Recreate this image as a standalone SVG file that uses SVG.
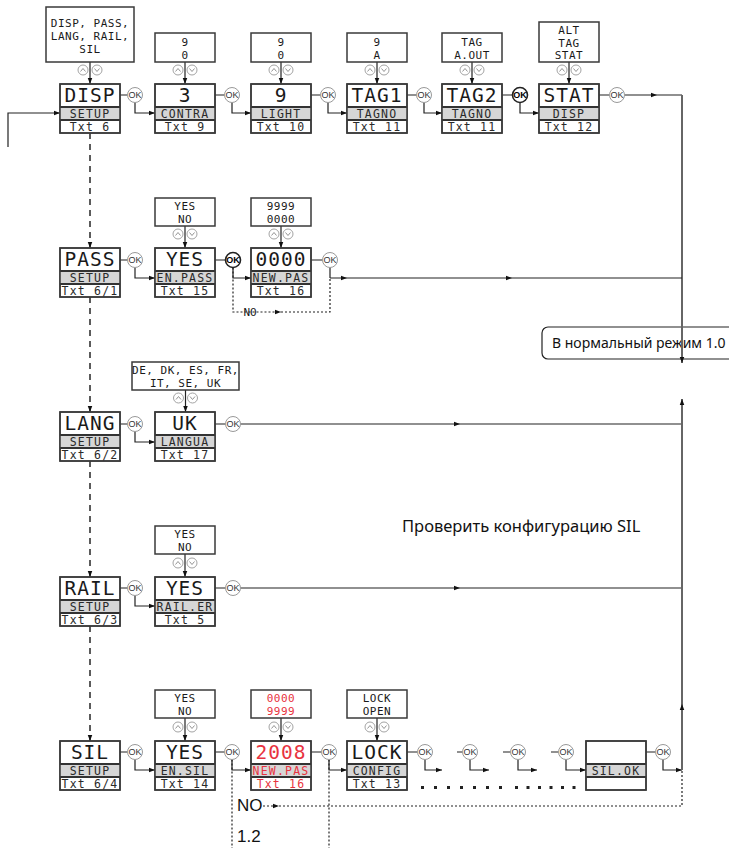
<svg xmlns="http://www.w3.org/2000/svg" xmlns:xlink="http://www.w3.org/1999/xlink" width="729" height="848" viewBox="0 0 729 848">
<style>
.bx{fill:#fff;stroke:#3a3a3a;stroke-width:1.5}
.nb{fill:none;stroke:#3a3a3a;stroke-width:1.5}
.bd{fill:#d6d6d6}
.dv{stroke:#333;stroke-width:2;fill:none}
.l{font-family:"DejaVu Sans Mono","Liberation Mono",monospace;text-anchor:middle;fill:#1a1a1a}
.b{font-size:19.5px;letter-spacing:1px}
.s{font-size:11.5px;letter-spacing:1.2px;fill:#2a2a2a}
.o{font-size:11px;letter-spacing:0.5px}
.r{fill:#e83340}
.okc{fill:#fff;stroke:#999;stroke-width:1}
.okbc{fill:#fff;stroke:#222;stroke-width:1.6}
.okt{font-family:"Liberation Sans",Arial,sans-serif;font-size:9px;text-anchor:middle;fill:#333}
.okbt{font-family:"Liberation Sans",Arial,sans-serif;font-size:9px;font-weight:bold;text-anchor:middle;fill:#000}
.c{fill:none;stroke:#222;stroke-width:1.2}
.v{fill:none;stroke:#666;stroke-width:2}
.dash{fill:none;stroke:#333;stroke-width:1.6;stroke-dasharray:6 5}
.dot{fill:none;stroke:#222;stroke-width:1.2;stroke-dasharray:2 2}
.ru{font-family:"Noto Sans","Open Sans",sans-serif;fill:#111}
.ar{font-family:"Liberation Sans",Arial,sans-serif;font-size:17px;fill:#111}
.udc{fill:#fff;stroke:#999;stroke-width:0.9}
.udp{fill:none;stroke:#888;stroke-width:0.9}
</style>
<defs>
<marker id="ae" viewBox="0 0 8 8" refX="8" refY="4" markerWidth="6" markerHeight="6" orient="auto" markerUnits="userSpaceOnUse"><path d="M0 1L8 4L0 7z" fill="#111"/></marker>
<g id="ud"><circle class="udc" cx="-7" r="5"/><path class="udp" d="M-9.5 1.5L-7 -1.5L-4.5 1.5"/><circle class="udc" cx="7" r="5"/><path class="udp" d="M4.5 -1.5L7 1.5L9.5 -1.5"/></g>
</defs>
<rect width="729" height="848" fill="#fff"/>

<g id="lbl-normal">
<rect x="542" y="327" width="200" height="32" rx="6" fill="#fff" stroke="#222" stroke-width="1.2"/>
<text class="ru" x="552" y="348" font-size="14">В нормальный режим 1.0</text>
</g>
<g id="lbl-check"><text class="ru" x="402" y="532" font-size="16.5">Проверить конфигурацию SIL</text></g>

<g id="connectors">
<path class="c" d="M8 147V113H60" marker-end="url(#ae)"/>
<path class="c" d="M120 95H127.5M215 95H224.5M311 95H320.5M407 95H416.5M502 95H512.5M599 95H609.5"/>
<path class="c" d="M135 102.5V113H155" marker-end="url(#ae)"/>
<path class="c" d="M232 102.5V113H251" marker-end="url(#ae)"/>
<path class="c" d="M328 102.5V113H347" marker-end="url(#ae)"/>
<path class="c" d="M424 102.5V113H442" marker-end="url(#ae)"/>
<path class="c" d="M520 102.5V113H539" marker-end="url(#ae)"/>
<path class="c" d="M624.5 95H657H682" marker-mid="url(#ae)"/>
<path class="c" d="M90 62V84" marker-end="url(#ae)"/>
<path class="c" d="M185 62V84" marker-end="url(#ae)"/>
<path class="c" d="M281 62V84" marker-end="url(#ae)"/>
<path class="c" d="M377 62V84" marker-end="url(#ae)"/>
<path class="c" d="M472 62V84" marker-end="url(#ae)"/>
<path class="c" d="M569 62V84" marker-end="url(#ae)"/>
<path class="dash" d="M90 133V248" marker-end="url(#ae)"/>
<path class="dash" d="M90 297V412" marker-end="url(#ae)"/>
<path class="dash" d="M90 461V577" marker-end="url(#ae)"/>
<path class="dash" d="M90 626V741" marker-end="url(#ae)"/>
<path class="v" d="M682 95V363" marker-end="url(#ae)"/>
<path class="c" d="M120 260H127.5M215 260H225.5M311 260H322.5M330 267.5V278"/>
<path class="c" d="M135 267.5V278H155" marker-end="url(#ae)"/>
<path class="c" d="M233 267.5V278H251" marker-end="url(#ae)"/>
<path class="c" d="M330 278H347H512H682" marker-mid="url(#ae)"/>
<path class="c" d="M185 226V248" marker-end="url(#ae)"/>
<path class="c" d="M281 226V248" marker-end="url(#ae)"/>
<path class="dot" d="M233 267.5V312H281" marker-end="url(#ae)"/>
<path class="dot" d="M281 312H330V278"/>
<text class="l" x="250" y="316" font-size="11">NO</text>
<path class="c" d="M120 424H127.5M215 424H225.5"/>
<path class="c" d="M135 431.5V442H155" marker-end="url(#ae)"/>
<path class="c" d="M240.5 424H460H682" marker-mid="url(#ae)"/>
<path class="c" d="M185.5 390V412" marker-end="url(#ae)"/>
<path class="c" d="M120 588H127.5M215 588H225.5"/>
<path class="c" d="M135 595.5V606H155" marker-end="url(#ae)"/>
<path class="c" d="M240.5 588H460H682" marker-mid="url(#ae)"/>
<path class="c" d="M185 554V577" marker-end="url(#ae)"/>
<path class="c" d="M120 752H127.5M215 752H224.5M311 752H321.5M407 752H417.5M457 752H462.5M503 752H510.5M551 752H558.5M646 752H655.5"/>
<path class="c" d="M135 759.5V770H155" marker-end="url(#ae)"/>
<path class="c" d="M232 759.5V770H251" marker-end="url(#ae)"/>
<path class="c" d="M329 759.5V770H347" marker-end="url(#ae)"/>
<path class="c" d="M425 759.5V770H442" marker-end="url(#ae)"/>
<path class="c" d="M470 759.5V770H489" marker-end="url(#ae)"/>
<path class="c" d="M518 759.5V770H537" marker-end="url(#ae)"/>
<path class="c" d="M566 759.5V770H586" marker-end="url(#ae)"/>
<path class="c" d="M663 759.5V770H682" marker-end="url(#ae)"/>
<path class="c" d="M185 718V741" marker-end="url(#ae)"/>
<path class="c" d="M281 718V741" marker-end="url(#ae)"/>
<path class="c" d="M377 718V741" marker-end="url(#ae)"/>
<path class="v" d="M682 770V704V399" marker-mid="url(#ae)" marker-end="url(#ae)"/>
<path class="dot" d="M232 759.5V848M329 759.5V848"/>
<path class="dot" d="M263 806H279" marker-end="url(#ae)"/>
<path class="dot" d="M279 806H682V770"/>
<path d="M421 787.5H503" stroke="#222" stroke-width="3" stroke-dasharray="3 10"/>
<path d="M515 787.5H576" stroke="#222" stroke-width="3" stroke-dasharray="3 8.5"/>
<text class="ar" x="237" y="811">NO</text>
<text class="ar" x="237" y="842">1.2</text>
</g>

<g id="o-disp"><rect class="bx" x="46" y="7" width="88" height="55"/><text class="l o" x="90" y="27">DISP, PASS,</text><text class="l o" x="90" y="40">LANG, RAIL,</text><text class="l o" x="90" y="53">SIL</text><use xlink:href="#ud" x="90" y="70"/></g>
<g id="o-contra"><rect class="bx" x="155" y="33" width="60" height="29"/><text class="l o" x="185" y="45.5">9</text><text class="l o" x="185" y="58.5">0</text><use xlink:href="#ud" x="185" y="70"/></g>
<g id="o-light"><rect class="bx" x="251" y="33" width="60" height="29"/><text class="l o" x="281" y="45.5">9</text><text class="l o" x="281" y="58.5">0</text><use xlink:href="#ud" x="281" y="70"/></g>
<g id="o-tag1"><rect class="bx" x="347" y="33" width="60" height="29"/><text class="l o" x="377" y="45.5">9</text><text class="l o" x="377" y="58.5">A</text><use xlink:href="#ud" x="377" y="70"/></g>
<g id="o-tag2"><rect class="bx" x="442" y="33" width="60" height="29"/><text class="l o" x="472" y="45.5">TAG</text><text class="l o" x="472" y="58.5">A.OUT</text><use xlink:href="#ud" x="472" y="70"/></g>
<g id="o-stat"><rect class="bx" x="539" y="22" width="60" height="40"/><text class="l o" x="569" y="33.5">ALT</text><text class="l o" x="569" y="46.5">TAG</text><text class="l o" x="569" y="59">STAT</text><use xlink:href="#ud" x="569" y="70"/></g>
<g id="o-enpass"><rect class="bx" x="155" y="198" width="60" height="28"/><text class="l o" x="185" y="209.5">YES</text><text class="l o" x="185" y="222.5">NO</text><use xlink:href="#ud" x="185" y="234"/></g>
<g id="o-newpas"><rect class="bx" x="251" y="198" width="60" height="28"/><text class="l o" x="281" y="209.5">9999</text><text class="l o" x="281" y="222.5">0000</text><use xlink:href="#ud" x="281" y="234"/></g>
<g id="o-langua"><rect class="bx" x="132" y="362" width="107" height="28"/><text class="l o" x="185.5" y="373.5">DE, DK, ES, FR,</text><text class="l o" x="185.5" y="386.5">IT, SE, UK</text><use xlink:href="#ud" x="185.5" y="398"/></g>
<g id="o-railer"><rect class="bx" x="155" y="526" width="60" height="28"/><text class="l o" x="185" y="537.5">YES</text><text class="l o" x="185" y="550.5">NO</text><use xlink:href="#ud" x="185" y="563"/></g>
<g id="o-ensil"><rect class="bx" x="155" y="690" width="60" height="28"/><text class="l o" x="185" y="701.5">YES</text><text class="l o" x="185" y="714.5">NO</text><use xlink:href="#ud" x="185" y="727"/></g>
<g id="o-silpas"><rect class="bx" x="251" y="690" width="60" height="28"/><text class="l o r" x="281" y="701.5">0000</text><text class="l o r" x="281" y="714.5">9999</text><use xlink:href="#ud" x="281" y="727"/></g>
<g id="o-lock"><rect class="bx" x="347" y="690" width="60" height="28"/><text class="l o" x="377" y="701.5">LOCK</text><text class="l o" x="377" y="714.5">OPEN</text><use xlink:href="#ud" x="377" y="727"/></g>

<g id="n-disp"><rect class="bx" x="60" y="84" width="60" height="49"/><rect class="bd" x="60" y="107" width="60" height="13"/><path class="dv" d="M60 107h60M60 120h60"/><rect class="nb" x="60" y="84" width="60" height="49"/><text class="l b" x="90" y="102.3">DISP</text><text class="l s" x="90" y="117.7">SETUP</text><text class="l s" x="90" y="131.2">Txt 6</text></g>
<g id="n-contra"><rect class="bx" x="155" y="84" width="60" height="49"/><rect class="bd" x="155" y="107" width="60" height="13"/><path class="dv" d="M155 107h60M155 120h60"/><rect class="nb" x="155" y="84" width="60" height="49"/><text class="l b" x="185" y="102.3">3</text><text class="l s" x="185" y="117.7">CONTRA</text><text class="l s" x="185" y="131.2">Txt 9</text></g>
<g id="n-light"><rect class="bx" x="251" y="84" width="60" height="49"/><rect class="bd" x="251" y="107" width="60" height="13"/><path class="dv" d="M251 107h60M251 120h60"/><rect class="nb" x="251" y="84" width="60" height="49"/><text class="l b" x="281" y="102.3">9</text><text class="l s" x="281" y="117.7">LIGHT</text><text class="l s" x="281" y="131.2">Txt 10</text></g>
<g id="n-tag1"><rect class="bx" x="347" y="84" width="60" height="49"/><rect class="bd" x="347" y="107" width="60" height="13"/><path class="dv" d="M347 107h60M347 120h60"/><rect class="nb" x="347" y="84" width="60" height="49"/><text class="l b" x="377" y="102.3">TAG1</text><text class="l s" x="377" y="117.7">TAGNO</text><text class="l s" x="377" y="131.2">Txt 11</text></g>
<g id="n-tag2"><rect class="bx" x="442" y="84" width="60" height="49"/><rect class="bd" x="442" y="107" width="60" height="13"/><path class="dv" d="M442 107h60M442 120h60"/><rect class="nb" x="442" y="84" width="60" height="49"/><text class="l b" x="472" y="102.3">TAG2</text><text class="l s" x="472" y="117.7">TAGNO</text><text class="l s" x="472" y="131.2">Txt 11</text></g>
<g id="n-stat"><rect class="bx" x="539" y="84" width="60" height="49"/><rect class="bd" x="539" y="107" width="60" height="13"/><path class="dv" d="M539 107h60M539 120h60"/><rect class="nb" x="539" y="84" width="60" height="49"/><text class="l b" x="569" y="102.3">STAT</text><text class="l s" x="569" y="117.7">DISP</text><text class="l s" x="569" y="131.2">Txt 12</text></g>
<g id="n-pass"><rect class="bx" x="60" y="248" width="60" height="49"/><rect class="bd" x="60" y="271" width="60" height="13"/><path class="dv" d="M60 271h60M60 284h60"/><rect class="nb" x="60" y="248" width="60" height="49"/><text class="l b" x="90" y="266.3">PASS</text><text class="l s" x="90" y="281.7">SETUP</text><text class="l s" x="90" y="295.2">Txt 6/1</text></g>
<g id="n-enpass"><rect class="bx" x="155" y="248" width="60" height="49"/><rect class="bd" x="155" y="271" width="60" height="13"/><path class="dv" d="M155 271h60M155 284h60"/><rect class="nb" x="155" y="248" width="60" height="49"/><text class="l b" x="185" y="266.3">YES</text><text class="l s" x="185" y="281.7">EN.PASS</text><text class="l s" x="185" y="295.2">Txt 15</text></g>
<g id="n-newpas"><rect class="bx" x="251" y="248" width="60" height="49"/><rect class="bd" x="251" y="271" width="60" height="13"/><path class="dv" d="M251 271h60M251 284h60"/><rect class="nb" x="251" y="248" width="60" height="49"/><text class="l b" x="281" y="266.3">0000</text><text class="l s" x="281" y="281.7">NEW.PAS</text><text class="l s" x="281" y="295.2">Txt 16</text></g>
<g id="n-lang"><rect class="bx" x="60" y="412" width="60" height="49"/><rect class="bd" x="60" y="435" width="60" height="13"/><path class="dv" d="M60 435h60M60 448h60"/><rect class="nb" x="60" y="412" width="60" height="49"/><text class="l b" x="90" y="430.3">LANG</text><text class="l s" x="90" y="445.7">SETUP</text><text class="l s" x="90" y="459.2">Txt 6/2</text></g>
<g id="n-langua"><rect class="bx" x="155" y="412" width="60" height="49"/><rect class="bd" x="155" y="435" width="60" height="13"/><path class="dv" d="M155 435h60M155 448h60"/><rect class="nb" x="155" y="412" width="60" height="49"/><text class="l b" x="185" y="430.3">UK</text><text class="l s" x="185" y="445.7">LANGUA</text><text class="l s" x="185" y="459.2">Txt 17</text></g>
<g id="n-rail"><rect class="bx" x="60" y="577" width="60" height="49"/><rect class="bd" x="60" y="600" width="60" height="13"/><path class="dv" d="M60 600h60M60 613h60"/><rect class="nb" x="60" y="577" width="60" height="49"/><text class="l b" x="90" y="595.3">RAIL</text><text class="l s" x="90" y="610.7">SETUP</text><text class="l s" x="90" y="624.2">Txt 6/3</text></g>
<g id="n-railer"><rect class="bx" x="155" y="577" width="60" height="49"/><rect class="bd" x="155" y="600" width="60" height="13"/><path class="dv" d="M155 600h60M155 613h60"/><rect class="nb" x="155" y="577" width="60" height="49"/><text class="l b" x="185" y="595.3">YES</text><text class="l s" x="185" y="610.7">RAIL.ER</text><text class="l s" x="185" y="624.2">Txt 5</text></g>
<g id="n-sil"><rect class="bx" x="60" y="741" width="60" height="49"/><rect class="bd" x="60" y="764" width="60" height="13"/><path class="dv" d="M60 764h60M60 777h60"/><rect class="nb" x="60" y="741" width="60" height="49"/><text class="l b" x="90" y="759.3">SIL</text><text class="l s" x="90" y="774.7">SETUP</text><text class="l s" x="90" y="788.2">Txt 6/4</text></g>
<g id="n-ensil"><rect class="bx" x="155" y="741" width="60" height="49"/><rect class="bd" x="155" y="764" width="60" height="13"/><path class="dv" d="M155 764h60M155 777h60"/><rect class="nb" x="155" y="741" width="60" height="49"/><text class="l b" x="185" y="759.3">YES</text><text class="l s" x="185" y="774.7">EN.SIL</text><text class="l s" x="185" y="788.2">Txt 14</text></g>
<g id="n-silpas"><rect class="bx" x="251" y="741" width="60" height="49"/><rect class="bd" x="251" y="764" width="60" height="13"/><path class="dv" d="M251 764h60M251 777h60"/><rect class="nb" x="251" y="741" width="60" height="49"/><text class="l b r" x="281" y="759.3">2008</text><text class="l s r" x="281" y="774.7">NEW.PAS</text><text class="l s r" x="281" y="788.2">Txt 16</text></g>
<g id="n-lock"><rect class="bx" x="347" y="741" width="60" height="49"/><rect class="bd" x="347" y="764" width="60" height="13"/><path class="dv" d="M347 764h60M347 777h60"/><rect class="nb" x="347" y="741" width="60" height="49"/><text class="l b" x="377" y="759.3">LOCK</text><text class="l s" x="377" y="774.7">CONFIG</text><text class="l s" x="377" y="788.2">Txt 13</text></g>
<g id="n-silok"><rect class="bx" x="586" y="741" width="60" height="49"/><rect class="bd" x="586" y="764" width="60" height="13"/><path class="dv" d="M586 764h60M586 777h60"/><rect class="nb" x="586" y="741" width="60" height="49"/><text class="l s" x="616" y="774.7">SIL.OK</text></g>

<g id="ok-buttons">
<circle class="okc" cx="135" cy="95" r="7.5"/><text class="okt" x="135" y="98">OK</text>
<circle class="okc" cx="232" cy="95" r="7.5"/><text class="okt" x="232" y="98">OK</text>
<circle class="okc" cx="328" cy="95" r="7.5"/><text class="okt" x="328" y="98">OK</text>
<circle class="okc" cx="424" cy="95" r="7.5"/><text class="okt" x="424" y="98">OK</text>
<circle class="okbc" cx="520" cy="95" r="7.5"/><text class="okbt" x="520" y="98">OK</text>
<circle class="okc" cx="617" cy="95" r="7.5"/><text class="okt" x="617" y="98">OK</text>
<circle class="okc" cx="135" cy="260" r="7.5"/><text class="okt" x="135" y="263">OK</text>
<circle class="okbc" cx="233" cy="260" r="7.5"/><text class="okbt" x="233" y="263">OK</text>
<circle class="okc" cx="330" cy="260" r="7.5"/><text class="okt" x="330" y="263">OK</text>
<circle class="okc" cx="135" cy="424" r="7.5"/><text class="okt" x="135" y="427">OK</text>
<circle class="okc" cx="233" cy="424" r="7.5"/><text class="okt" x="233" y="427">OK</text>
<circle class="okc" cx="135" cy="588" r="7.5"/><text class="okt" x="135" y="591">OK</text>
<circle class="okc" cx="233" cy="588" r="7.5"/><text class="okt" x="233" y="591">OK</text>
<circle class="okc" cx="135" cy="752" r="7.5"/><text class="okt" x="135" y="755">OK</text>
<circle class="okc" cx="232" cy="752" r="7.5"/><text class="okt" x="232" y="755">OK</text>
<circle class="okc" cx="329" cy="752" r="7.5"/><text class="okt" x="329" y="755">OK</text>
<circle class="okc" cx="425" cy="752" r="7.5"/><text class="okt" x="425" y="755">OK</text>
<circle class="okc" cx="470" cy="752" r="7.5"/><text class="okt" x="470" y="755">OK</text>
<circle class="okc" cx="518" cy="752" r="7.5"/><text class="okt" x="518" y="755">OK</text>
<circle class="okc" cx="566" cy="752" r="7.5"/><text class="okt" x="566" y="755">OK</text>
<circle class="okc" cx="663" cy="752" r="7.5"/><text class="okt" x="663" y="755">OK</text>
</g>
</svg>
